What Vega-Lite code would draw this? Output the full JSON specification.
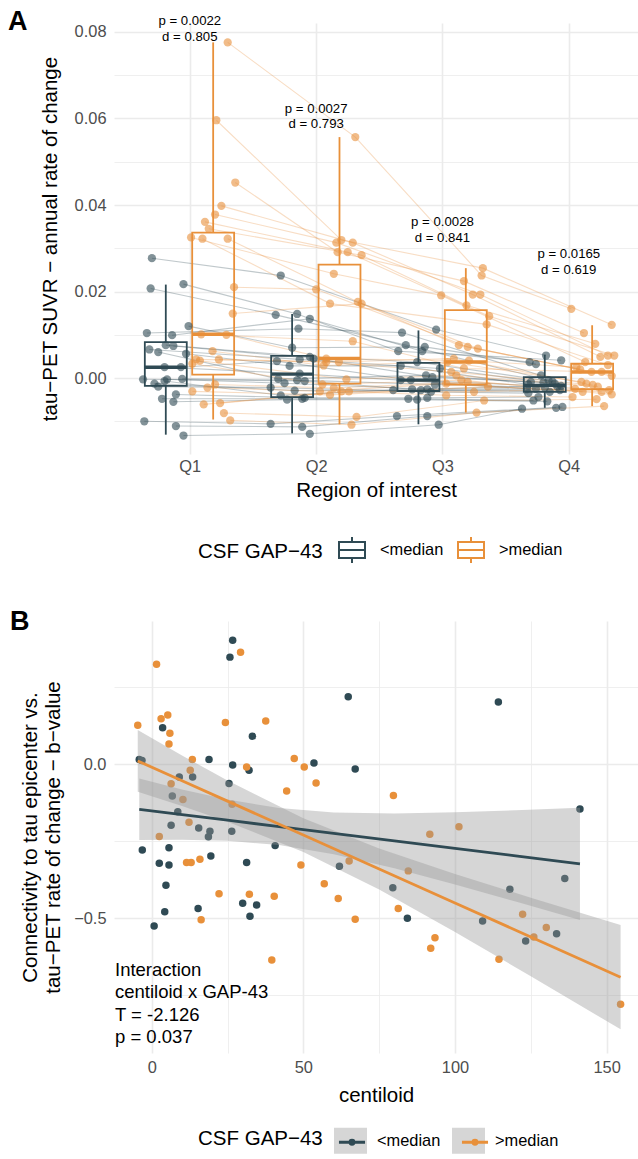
{
"$schema":"https://vega.github.io/schema/vega-lite/v6.json",
"padding":{"left":8,"top":8,"right":0,"bottom":0},
"spacing":41,
"config":{"font":"Liberation Sans","view":{"stroke":null},
"axis":{"domain":false,"ticks":false,"labelColor":"#4D4D4D","labelFontSize":16.4,"titleFontSize":20.5,"titleFontWeight":"normal","titleColor":"#000000","gridColor":"#EBEBEB","labelPadding":8,"labelOverlap":false,"labelFlush":false},
"legend":{"labelFontSize":16.4,"titleFontSize":20.5,"titleFontWeight":"normal","titleColor":"#000000","labelColor":"#000000"}},
"resolve":{"scale":{"color":"independent","stroke":"independent","fill":"independent"}},
"datasets":{
"ptsA":[
{"g":"<median","s":"l1","q":1,"jx":0.70,"v":0.0277},{"g":"<median","s":"l2","q":1,"jx":0.95,"v":0.0217},{"g":"<median","s":"l3","q":1,"jx":0.69,"v":0.0207},{"g":"<median","s":"l4","q":1,"jx":0.99,"v":0.0120},{"g":"<median","s":"l5","q":1,"jx":0.66,"v":0.0104},{"g":"<median","s":"l6","q":1,"jx":0.86,"v":0.0099},{"g":"<median","s":"l7","q":1,"jx":0.81,"v":0.0076},{"g":"<median","s":"l8","q":1,"jx":0.87,"v":0.0074},{"g":"<median","s":"l9","q":1,"jx":0.68,"v":0.0066},{"g":"<median","s":"l10","q":1,"jx":0.75,"v":0.0060},{"g":"<median","s":"l11","q":1,"jx":0.97,"v":0.0056},{"g":"<median","s":"l12","q":1,"jx":0.80,"v":0.0025},{"g":"<median","s":"l13","q":1,"jx":0.93,"v":0.0025},{"g":"<median","s":"l14","q":1,"jx":0.94,"v":-0.0002},{"g":"<median","s":"l15","q":1,"jx":0.63,"v":-0.0003},{"g":"<median","s":"l16","q":1,"jx":0.82,"v":-0.0003},{"g":"<median","s":"l17","q":1,"jx":0.80,"v":-0.0007},{"g":"<median","s":"l18","q":1,"jx":0.72,"v":-0.0013},{"g":"<median","s":"l19","q":1,"jx":0.75,"v":-0.0020},{"g":"<median","s":"l20","q":1,"jx":0.89,"v":-0.0038},{"g":"<median","s":"l21","q":1,"jx":0.78,"v":-0.0048},{"g":"<median","s":"l22","q":1,"jx":0.87,"v":-0.0055},{"g":"<median","s":"l23","q":1,"jx":0.64,"v":-0.0100},{"g":"<median","s":"l24","q":1,"jx":0.89,"v":-0.0111},{"g":"<median","s":"l25","q":1,"jx":0.95,"v":-0.0133},
{"g":"<median","s":"l1","q":2,"jx":1.72,"v":0.0237},{"g":"<median","s":"l2","q":2,"jx":1.85,"v":0.0148},{"g":"<median","s":"l3","q":2,"jx":1.68,"v":0.0146},{"g":"<median","s":"l4","q":2,"jx":1.81,"v":0.0070},{"g":"<median","s":"l5","q":2,"jx":1.86,"v":0.0114},{"g":"<median","s":"l6","q":2,"jx":1.95,"v":0.0137},{"g":"<median","s":"l7","q":2,"jx":1.95,"v":0.0049},{"g":"<median","s":"l8","q":2,"jx":1.98,"v":0.0045},{"g":"<median","s":"l9","q":2,"jx":1.87,"v":0.0043},{"g":"<median","s":"l10","q":2,"jx":1.70,"v":-0.0002},{"g":"<median","s":"l11","q":2,"jx":1.79,"v":0.0028},{"g":"<median","s":"l12","q":2,"jx":1.87,"v":0.0010},{"g":"<median","s":"l13","q":2,"jx":1.69,"v":0.0039},{"g":"<median","s":"l14","q":2,"jx":1.85,"v":-0.0005},{"g":"<median","s":"l15","q":2,"jx":1.91,"v":-0.0007},{"g":"<median","s":"l16","q":2,"jx":1.75,"v":-0.0012},{"g":"<median","s":"l17","q":2,"jx":1.72,"v":-0.0040},{"g":"<median","s":"l18","q":2,"jx":1.83,"v":-0.0029},{"g":"<median","s":"l19","q":2,"jx":1.64,"v":-0.0022},{"g":"<median","s":"l20","q":2,"jx":1.91,"v":-0.0046},{"g":"<median","s":"l21","q":2,"jx":1.89,"v":-0.0048},{"g":"<median","s":"l22","q":2,"jx":1.77,"v":-0.0050},{"g":"<median","s":"l23","q":2,"jx":1.64,"v":-0.0106},{"g":"<median","s":"l24","q":2,"jx":1.89,"v":-0.0113},{"g":"<median","s":"l25","q":2,"jx":1.95,"v":-0.0129},
{"g":"<median","s":"l1","q":3,"jx":2.95,"v":0.0112},{"g":"<median","s":"l2","q":3,"jx":2.65,"v":0.0062},{"g":"<median","s":"l3","q":3,"jx":2.71,"v":0.0076},{"g":"<median","s":"l4","q":3,"jx":2.86,"v":0.0072},{"g":"<median","s":"l5","q":3,"jx":2.68,"v":0.0105},{"g":"<median","s":"l6","q":3,"jx":2.84,"v":0.0062},{"g":"<median","s":"l7","q":3,"jx":2.80,"v":0.0037},{"g":"<median","s":"l8","q":3,"jx":2.92,"v":0.0002},{"g":"<median","s":"l9","q":3,"jx":2.98,"v":0.0022},{"g":"<median","s":"l10","q":3,"jx":2.87,"v":0.0006},{"g":"<median","s":"l11","q":3,"jx":2.67,"v":0.0028},{"g":"<median","s":"l12","q":3,"jx":2.67,"v":-0.0005},{"g":"<median","s":"l13","q":3,"jx":2.75,"v":-0.0005},{"g":"<median","s":"l14","q":3,"jx":2.94,"v":-0.0015},{"g":"<median","s":"l15","q":3,"jx":2.76,"v":-0.0026},{"g":"<median","s":"l16","q":3,"jx":2.88,"v":-0.0026},{"g":"<median","s":"l17","q":3,"jx":2.61,"v":-0.0028},{"g":"<median","s":"l18","q":3,"jx":2.83,"v":-0.0028},{"g":"<median","s":"l19","q":3,"jx":2.91,"v":-0.0032},{"g":"<median","s":"l20","q":3,"jx":2.88,"v":-0.0046},{"g":"<median","s":"l21","q":3,"jx":2.73,"v":-0.0048},{"g":"<median","s":"l22","q":3,"jx":2.80,"v":-0.0050},{"g":"<median","s":"l23","q":3,"jx":2.64,"v":-0.0088},{"g":"<median","s":"l24","q":3,"jx":2.88,"v":-0.0088},{"g":"<median","s":"l25","q":3,"jx":2.97,"v":-0.0108},
{"g":"<median","s":"l1","q":4,"jx":3.82,"v":0.0052},{"g":"<median","s":"l2","q":4,"jx":3.94,"v":0.0041},{"g":"<median","s":"l3","q":4,"jx":3.84,"v":-0.0005},{"g":"<median","s":"l4","q":4,"jx":3.74,"v":0.0032},{"g":"<median","s":"l5","q":4,"jx":3.78,"v":0.0006},{"g":"<median","s":"l6","q":4,"jx":3.69,"v":0.0037},{"g":"<median","s":"l7","q":4,"jx":3.87,"v":-0.0008},{"g":"<median","s":"l8","q":4,"jx":3.70,"v":-0.0009},{"g":"<median","s":"l9","q":4,"jx":3.80,"v":-0.0010},{"g":"<median","s":"l10","q":4,"jx":3.89,"v":-0.0013},{"g":"<median","s":"l11","q":4,"jx":3.68,"v":-0.0015},{"g":"<median","s":"l12","q":4,"jx":3.67,"v":-0.0025},{"g":"<median","s":"l13","q":4,"jx":3.91,"v":-0.0020},{"g":"<median","s":"l14","q":4,"jx":3.81,"v":-0.0022},{"g":"<median","s":"l15","q":4,"jx":3.94,"v":-0.0018},{"g":"<median","s":"l16","q":4,"jx":3.74,"v":-0.0025},{"g":"<median","s":"l17","q":4,"jx":3.93,"v":-0.0028},{"g":"<median","s":"l18","q":4,"jx":3.85,"v":-0.0032},{"g":"<median","s":"l19","q":4,"jx":3.68,"v":-0.0035},{"g":"<median","s":"l20","q":4,"jx":3.76,"v":-0.0044},{"g":"<median","s":"l21","q":4,"jx":3.72,"v":-0.0052},{"g":"<median","s":"l22","q":4,"jx":3.83,"v":-0.0054},{"g":"<median","s":"l23","q":4,"jx":3.95,"v":-0.0067},{"g":"<median","s":"l24","q":4,"jx":3.90,"v":-0.0069},{"g":"<median","s":"l25","q":4,"jx":3.63,"v":-0.0071},
{"g":">median","s":"h1","q":1,"jx":1.30,"v":0.0776},{"g":">median","s":"h2","q":1,"jx":1.21,"v":0.0596},{"g":">median","s":"h3","q":1,"jx":1.36,"v":0.0452},{"g":">median","s":"h4","q":1,"jx":1.25,"v":0.0398},{"g":">median","s":"h5","q":1,"jx":1.20,"v":0.0378},{"g":">median","s":"h6","q":1,"jx":1.12,"v":0.0361},{"g":">median","s":"h7","q":1,"jx":1.15,"v":0.0345},{"g":">median","s":"h8","q":1,"jx":1.01,"v":0.0325},{"g":">median","s":"h9","q":1,"jx":1.10,"v":0.0322},{"g":">median","s":"h10","q":1,"jx":1.30,"v":0.0322},{"g":">median","s":"h11","q":1,"jx":1.35,"v":0.0210},{"g":">median","s":"h12","q":1,"jx":1.34,"v":0.0149},{"g":">median","s":"h13","q":1,"jx":1.09,"v":0.0101},{"g":">median","s":"h14","q":1,"jx":1.29,"v":0.0100},{"g":">median","s":"h15","q":1,"jx":1.18,"v":0.0062},{"g":">median","s":"h16","q":1,"jx":1.23,"v":0.0043},{"g":">median","s":"h17","q":1,"jx":1.05,"v":0.0043},{"g":">median","s":"h18","q":1,"jx":1.08,"v":0.0040},{"g":">median","s":"h19","q":1,"jx":1.02,"v":0.0033},{"g":">median","s":"h20","q":1,"jx":1.20,"v":-0.0015},{"g":">median","s":"h21","q":1,"jx":1.14,"v":-0.0022},{"g":">median","s":"h22","q":1,"jx":1.02,"v":-0.0031},{"g":">median","s":"h23","q":1,"jx":1.24,"v":-0.0058},{"g":">median","s":"h24","q":1,"jx":1.11,"v":-0.0061},{"g":">median","s":"h25","q":1,"jx":1.27,"v":-0.0081},{"g":">median","s":"h26","q":1,"jx":1.32,"v":-0.0098},
{"g":">median","s":"h1","q":2,"jx":2.31,"v":0.0557},{"g":">median","s":"h2","q":2,"jx":2.20,"v":0.0319},{"g":">median","s":"h3","q":2,"jx":2.17,"v":0.0291},{"g":">median","s":"h4","q":2,"jx":2.29,"v":0.0313},{"g":">median","s":"h5","q":2,"jx":2.16,"v":0.0313},{"g":">median","s":"h6","q":2,"jx":2.25,"v":0.0291},{"g":">median","s":"h7","q":2,"jx":2.36,"v":0.0284},{"g":">median","s":"h8","q":2,"jx":2.14,"v":0.0241},{"g":">median","s":"h9","q":2,"jx":2.11,"v":0.0172},{"g":">median","s":"h10","q":2,"jx":2.33,"v":0.0176},{"g":">median","s":"h11","q":2,"jx":2.00,"v":0.0205},{"g":">median","s":"h12","q":2,"jx":2.36,"v":0.0172},{"g":">median","s":"h13","q":2,"jx":2.29,"v":0.0085},{"g":">median","s":"h14","q":2,"jx":2.08,"v":0.0045},{"g":">median","s":"h15","q":2,"jx":2.06,"v":0.0029},{"g":">median","s":"h16","q":2,"jx":2.18,"v":0.0037},{"g":">median","s":"h17","q":2,"jx":2.08,"v":0.0037},{"g":">median","s":"h18","q":2,"jx":2.24,"v":-0.0003},{"g":">median","s":"h19","q":2,"jx":2.05,"v":-0.0015},{"g":">median","s":"h20","q":2,"jx":2.14,"v":-0.0023},{"g":">median","s":"h21","q":2,"jx":2.03,"v":-0.0031},{"g":">median","s":"h22","q":2,"jx":2.11,"v":-0.0039},{"g":">median","s":"h23","q":2,"jx":2.26,"v":-0.0031},{"g":">median","s":"h24","q":2,"jx":2.20,"v":-0.0031},{"g":">median","s":"h25","q":2,"jx":2.32,"v":-0.0090},{"g":">median","s":"h26","q":2,"jx":2.28,"v":-0.0108},
{"g":">median","s":"h1","q":3,"jx":3.31,"v":0.0237},{"g":">median","s":"h2","q":3,"jx":3.32,"v":0.0254},{"g":">median","s":"h3","q":3,"jx":3.17,"v":0.0224},{"g":">median","s":"h4","q":3,"jx":3.24,"v":0.0193},{"g":">median","s":"h5","q":3,"jx":3.30,"v":0.0193},{"g":">median","s":"h6","q":3,"jx":3.37,"v":0.0143},{"g":">median","s":"h7","q":3,"jx":3.19,"v":0.0168},{"g":">median","s":"h8","q":3,"jx":2.99,"v":0.0191},{"g":">median","s":"h9","q":3,"jx":3.35,"v":0.0124},{"g":">median","s":"h10","q":3,"jx":3.13,"v":0.0076},{"g":">median","s":"h11","q":3,"jx":3.20,"v":0.0072},{"g":">median","s":"h12","q":3,"jx":3.28,"v":0.0068},{"g":">median","s":"h13","q":3,"jx":3.17,"v":0.0022},{"g":">median","s":"h14","q":3,"jx":3.21,"v":0.0040},{"g":">median","s":"h15","q":3,"jx":3.04,"v":0.0037},{"g":">median","s":"h16","q":3,"jx":3.09,"v":0.0045},{"g":">median","s":"h17","q":3,"jx":3.07,"v":0.0014},{"g":">median","s":"h18","q":3,"jx":3.11,"v":0.0006},{"g":">median","s":"h19","q":3,"jx":3.15,"v":-0.0005},{"g":">median","s":"h20","q":3,"jx":3.20,"v":-0.0009},{"g":">median","s":"h21","q":3,"jx":3.03,"v":-0.0013},{"g":">median","s":"h22","q":3,"jx":3.36,"v":-0.0020},{"g":">median","s":"h23","q":3,"jx":3.25,"v":-0.0032},{"g":">median","s":"h24","q":3,"jx":3.03,"v":-0.0040},{"g":">median","s":"h25","q":3,"jx":3.33,"v":-0.0052},{"g":">median","s":"h26","q":3,"jx":3.27,"v":-0.0080},
{"g":">median","s":"h1","q":4,"jx":4.02,"v":0.0160},{"g":">median","s":"h2","q":4,"jx":4.34,"v":0.0123},{"g":">median","s":"h3","q":4,"jx":4.12,"v":0.0104},{"g":">median","s":"h4","q":4,"jx":4.25,"v":0.0049},{"g":">median","s":"h5","q":4,"jx":4.31,"v":0.0052},{"g":">median","s":"h6","q":4,"jx":4.36,"v":0.0052},{"g":">median","s":"h7","q":4,"jx":4.21,"v":0.0079},{"g":">median","s":"h8","q":4,"jx":4.13,"v":0.0037},{"g":">median","s":"h9","q":4,"jx":4.31,"v":0.0030},{"g":">median","s":"h10","q":4,"jx":4.34,"v":0.0005},{"g":">median","s":"h11","q":4,"jx":4.09,"v":0.0020},{"g":">median","s":"h12","q":4,"jx":4.18,"v":0.0014},{"g":">median","s":"h13","q":4,"jx":4.26,"v":0.0014},{"g":">median","s":"h14","q":4,"jx":4.06,"v":0.0025},{"g":">median","s":"h15","q":4,"jx":4.10,"v":-0.0009},{"g":">median","s":"h16","q":4,"jx":4.14,"v":-0.0013},{"g":">median","s":"h17","q":4,"jx":4.19,"v":-0.0016},{"g":">median","s":"h18","q":4,"jx":4.23,"v":-0.0020},{"g":">median","s":"h19","q":4,"jx":4.34,"v":-0.0038},{"g":">median","s":"h20","q":4,"jx":4.32,"v":-0.0028},{"g":">median","s":"h21","q":4,"jx":4.11,"v":-0.0032},{"g":">median","s":"h22","q":4,"jx":4.26,"v":-0.0032},{"g":">median","s":"h23","q":4,"jx":4.05,"v":-0.0025},{"g":">median","s":"h24","q":4,"jx":4.03,"v":-0.0044},{"g":">median","s":"h25","q":4,"jx":4.22,"v":-0.0049},{"g":">median","s":"h26","q":4,"jx":4.28,"v":-0.0065}
],
"boxA":[
{"g":"<median","q":1,"lo":-0.0131,"lq":-0.0018,"md":0.0025,"uq":0.0083,"hi":0.0216},
{"g":"<median","q":2,"lo":-0.0128,"lq":-0.0044,"md":0.0009,"uq":0.0051,"hi":0.0148},
{"g":"<median","q":3,"lo":-0.0107,"lq":-0.0030,"md":-0.0005,"uq":0.0035,"hi":0.0110},
{"g":"<median","q":4,"lo":-0.0069,"lq":-0.0032,"md":-0.0017,"uq":0.0002,"hi":0.0054},
{"g":">median","q":1,"lo":-0.0096,"lq":0.0008,"md":0.0101,"uq":0.0336,"hi":0.0776},
{"g":">median","q":2,"lo":-0.0107,"lq":-0.0013,"md":0.0045,"uq":0.0262,"hi":0.0557},
{"g":">median","q":3,"lo":-0.0080,"lq":-0.0015,"md":0.0037,"uq":0.0157,"hi":0.0254},
{"g":">median","q":4,"lo":-0.0065,"lq":-0.0026,"md":0.0014,"uq":0.0033,"hi":0.0122}
],
"annA":[
{"q":1,"ty":0.0825,"t":["p = 0.0022","d = 0.805"]},
{"q":2,"ty":0.0623,"t":["p = 0.0027","d = 0.793"]},
{"q":3,"ty":0.0361,"t":["p = 0.0028","d = 0.841"]},
{"q":4,"ty":0.0286,"t":["p = 0.0165","d = 0.619"]}
],
"ptsB":[
{"g":"<median","cl":26.7,"b":0.403},{"g":"<median","cl":25.8,"b":0.348},{"g":"<median","cl":3.6,"b":0.119},{"g":"<median","cl":33.2,"b":0.091},{"g":"<median","cl":-4.1,"b":0.016},{"g":"<median","cl":-3.2,"b":0.012},{"g":"<median","cl":18.9,"b":0.016},{"g":"<median","cl":26.7,"b":-0.002},{"g":"<median","cl":32.1,"b":-0.019},{"g":"<median","cl":53.5,"b":0.004},{"g":"<median","cl":9.1,"b":-0.041},{"g":"<median","cl":13.5,"b":-0.041},{"g":"<median","cl":6.8,"b":-0.103},{"g":"<median","cl":25.5,"b":-0.062},{"g":"<median","cl":8.6,"b":-0.154},{"g":"<median","cl":6.4,"b":-0.198},{"g":"<median","cl":15.5,"b":-0.207},{"g":"<median","cl":19.2,"b":-0.217},{"g":"<median","cl":26.4,"b":-0.217},{"g":"<median","cl":64.8,"b":0.219},{"g":"<median","cl":114.3,"b":0.202},{"g":"<median","cl":67.1,"b":-0.015},{"g":"<median","cl":141.2,"b":-0.145},{"g":"<median","cl":18.7,"b":-0.235},{"g":"<median","cl":-3.1,"b":-0.278},{"g":"<median","cl":5.7,"b":-0.271},{"g":"<median","cl":2.5,"b":-0.321},{"g":"<median","cl":5.7,"b":-0.327},{"g":"<median","cl":19.5,"b":-0.298},{"g":"<median","cl":31.3,"b":-0.319},{"g":"<median","cl":40.7,"b":-0.264},{"g":"<median","cl":4.7,"b":-0.393},{"g":"<median","cl":30.0,"b":-0.451},{"g":"<median","cl":34.6,"b":-0.457},{"g":"<median","cl":32.4,"b":-0.493},{"g":"<median","cl":4.3,"b":-0.479},{"g":"<median","cl":15.3,"b":-0.468},{"g":"<median","cl":0.8,"b":-0.525},{"g":"<median","cl":61.9,"b":-0.331},{"g":"<median","cl":79.5,"b":-0.401},{"g":"<median","cl":84.3,"b":-0.500},{"g":"<median","cl":109.1,"b":-0.509},{"g":"<median","cl":118.1,"b":-0.406},{"g":"<median","cl":123.3,"b":-0.574},{"g":"<median","cl":133.5,"b":-0.550},{"g":"<median","cl":136.2,"b":-0.371},
{"g":">median","cl":29.3,"b":0.364},{"g":">median","cl":1.6,"b":0.325},{"g":">median","cl":-4.6,"b":0.127},{"g":">median","cl":3.1,"b":0.148},{"g":">median","cl":5.3,"b":0.160},{"g":">median","cl":6.0,"b":0.101},{"g":">median","cl":5.7,"b":0.066},{"g":">median","cl":24.3,"b":0.136},{"g":">median","cl":37.6,"b":0.141},{"g":">median","cl":13.4,"b":0.016},{"g":">median","cl":31.3,"b":-0.009},{"g":">median","cl":47.0,"b":0.019},{"g":">median","cl":50.3,"b":-0.009},{"g":">median","cl":54.2,"b":-0.061},{"g":">median","cl":44.5,"b":-0.087},{"g":">median","cl":12.7,"b":-0.019},{"g":">median","cl":6.4,"b":-0.063},{"g":">median","cl":10.3,"b":-0.114},{"g":">median","cl":26.5,"b":-0.130},{"g":">median","cl":12.3,"b":-0.188},{"g":">median","cl":2.5,"b":-0.234},{"g":">median","cl":79.7,"b":-0.101},{"g":">median","cl":101.3,"b":-0.203},{"g":">median","cl":91.7,"b":-0.227},{"g":">median","cl":11.5,"b":-0.319},{"g":">median","cl":13.0,"b":-0.319},{"g":">median","cl":15.9,"b":-0.308},{"g":">median","cl":49.2,"b":-0.327},{"g":">median","cl":22.2,"b":-0.420},{"g":">median","cl":32.2,"b":-0.422},{"g":">median","cl":40.4,"b":-0.428},{"g":">median","cl":16.3,"b":-0.505},{"g":">median","cl":39.6,"b":-0.635},{"g":">median","cl":56.9,"b":-0.388},{"g":">median","cl":61.5,"b":-0.436},{"g":">median","cl":67.1,"b":-0.503},{"g":">median","cl":65.1,"b":-0.314},{"g":">median","cl":84.6,"b":-0.346},{"g":">median","cl":81.3,"b":-0.468},{"g":">median","cl":93.4,"b":-0.563},{"g":">median","cl":92.0,"b":-0.597},{"g":">median","cl":122.3,"b":-0.487},{"g":">median","cl":126.0,"b":-0.561},{"g":">median","cl":130.1,"b":-0.530},{"g":">median","cl":114.5,"b":-0.633},{"g":">median","cl":154.6,"b":-0.779}
],
"bandB":[
{"g":"<median","x":-4.1,"fit":-0.146,"lo":-0.246,"hi":-0.046},{"g":"<median","x":10,"fit":-0.1632,"lo":-0.245,"hi":-0.0814},{"g":"<median","x":25,"fit":-0.1815,"lo":-0.2484,"hi":-0.1146},{"g":"<median","x":42,"fit":-0.2022,"lo":-0.2622,"hi":-0.1422},{"g":"<median","x":60,"fit":-0.2242,"lo":-0.2919,"hi":-0.1565},{"g":"<median","x":80,"fit":-0.2486,"lo":-0.3378,"hi":-0.1594},{"g":"<median","x":100,"fit":-0.273,"lo":-0.3903,"hi":-0.1557},{"g":"<median","x":120,"fit":-0.2974,"lo":-0.4456,"hi":-0.1492},{"g":"<median","x":141.2,"fit":-0.3233,"lo":-0.5058,"hi":-0.1408},
{"g":">median","x":-4.6,"fit":0.011,"lo":-0.089,"hi":0.111},{"g":">median","x":10,"fit":-0.0534,"lo":-0.1356,"hi":0.0288},{"g":">median","x":25,"fit":-0.1195,"lo":-0.1863,"hi":-0.0527},{"g":">median","x":50,"fit":-0.2298,"lo":-0.2846,"hi":-0.175},{"g":">median","x":75,"fit":-0.34,"lo":-0.4068,"hi":-0.2732},{"g":">median","x":100,"fit":-0.4503,"lo":-0.5445,"hi":-0.3561},{"g":">median","x":125,"fit":-0.5605,"lo":-0.6879,"hi":-0.4331},{"g":">median","x":154.6,"fit":-0.6911,"lo":-0.8605,"hi":-0.5217}
],
"annB":[{"x":-12.1,"y":-0.668,"t":["Interaction","centiloid x GAP-43","T = -2.126","p = 0.037"]}]
},
"vconcat":[
{"width":524,"height":431,
"title":{"text":"A","anchor":"start","frame":"group","fontSize":27,"fontWeight":"bold","color":"#000000","dx":-106,"dy":22,"offset":0},
"layer":[
{"data":{"name":"ptsA"},"mark":{"type":"line","strokeWidth":1.1,"opacity":0.3},
"encoding":{"x":{"field":"jx","type":"quantitative","scale":{"domain":[0.4,4.548],"nice":false,"zero":false},"axis":{"title":"Region of interest","values":[1,2,3,4],"labelExpr":"'Q' + datum.value","gridWidth":1.6,"labelPadding":4,"titlePadding":6}},
"y":{"field":"v","type":"quantitative","scale":{"domain":[-0.01757,0.08208],"nice":false,"zero":false},"axis":{"title":"tau−PET SUVR − annual rate of change","values":[-0.01,0,0.01,0.02,0.03,0.04,0.05,0.06,0.07,0.08],"labelExpr":"abs(datum.value*100 - round(datum.value*50)*2) < 0.01 ? format(datum.value, '.2f') : ''","gridWidth":{"condition":{"test":"abs(datum.value*100 - round(datum.value*50)*2) < 0.01","value":1.6},"value":0.8},"titlePadding":14}},
"color":{"field":"g","type":"nominal","scale":{"range":["#2F4A54","#E8903A"]},"legend":null},
"detail":{"field":"s"},"order":{"field":"q"}}},
{"data":{"name":"boxA"},"transform":[{"calculate":"datum.q + (datum.g == '<median' ? -0.19 : 0.185)","as":"pos"},{"calculate":"datum.pos - 0.166","as":"x0"},{"calculate":"datum.pos + 0.166","as":"x1"}],
"layer":[
{"mark":{"type":"rect","filled":false,"strokeWidth":1.8},
"encoding":{"x":{"field":"x0","type":"quantitative","scale":{"domain":[0.4,4.548],"nice":false,"zero":false}},"x2":{"field":"x1"},
"y":{"field":"lq","type":"quantitative","scale":{"domain":[-0.01757,0.08208],"nice":false,"zero":false}},"y2":{"field":"uq"},
"stroke":{"field":"g","type":"nominal","scale":{"domain":["<median",">median"],"range":["#2F4A54","#E8903A"]},
"legend":{"title":"CSF GAP−43","orient":"none","legendX":84,"legendY":513,"direction":"horizontal","titleOrient":"left","titleBaseline":"middle","symbolType":"M-1,-0.62H1V0.62H-1Z M-1,0H1 M0,-0.62V-1 M0,0.62V1","symbolSize":676,"symbolStrokeWidth":2,"symbolFillColor":"transparent","symbolOpacity":1,"labelOffset":14,"columnPadding":10,"titlePadding":15}}}},
{"mark":{"type":"rule","strokeWidth":1.8},
"encoding":{"x":{"field":"pos","type":"quantitative","scale":{"domain":[0.4,4.548],"nice":false,"zero":false}},
"y":{"field":"lo","type":"quantitative","scale":{"domain":[-0.01757,0.08208],"nice":false,"zero":false}},"y2":{"field":"lq"},
"color":{"field":"g","type":"nominal","scale":{"range":["#2F4A54","#E8903A"]},"legend":null}}},
{"mark":{"type":"rule","strokeWidth":1.8},
"encoding":{"x":{"field":"pos","type":"quantitative","scale":{"domain":[0.4,4.548],"nice":false,"zero":false}},
"y":{"field":"uq","type":"quantitative","scale":{"domain":[-0.01757,0.08208],"nice":false,"zero":false}},"y2":{"field":"hi"},
"color":{"field":"g","type":"nominal","scale":{"range":["#2F4A54","#E8903A"]},"legend":null}}},
{"mark":{"type":"rule","strokeWidth":3.4},
"encoding":{"x":{"field":"x0","type":"quantitative","scale":{"domain":[0.4,4.548],"nice":false,"zero":false}},"x2":{"field":"x1"},
"y":{"field":"md","type":"quantitative","scale":{"domain":[-0.01757,0.08208],"nice":false,"zero":false}},
"color":{"field":"g","type":"nominal","scale":{"range":["#2F4A54","#E8903A"]},"legend":null}}}
]},
{"data":{"name":"ptsA"},"mark":{"type":"circle","size":68,"opacity":0.6},
"encoding":{"x":{"field":"jx","type":"quantitative","scale":{"domain":[0.4,4.548],"nice":false,"zero":false}},
"y":{"field":"v","type":"quantitative","scale":{"domain":[-0.01757,0.08208],"nice":false,"zero":false}},
"color":{"field":"g","type":"nominal","scale":{"range":["#2F4A54","#E8903A"]},"legend":null}}},
{"data":{"name":"annA"},"mark":{"type":"text","fontSize":13.2,"lineHeight":15.7,"baseline":"middle","align":"center","color":"#000000"},
"encoding":{"x":{"field":"q","type":"quantitative","scale":{"domain":[0.4,4.548],"nice":false,"zero":false}},
"y":{"field":"ty","type":"quantitative","scale":{"domain":[-0.01757,0.08208],"nice":false,"zero":false}},
"text":{"field":"t"}}}
]},
{"width":524,"height":432,
"title":{"text":"B","anchor":"start","frame":"group","fontSize":27,"fontWeight":"bold","color":"#000000","dx":-104,"dy":15,"offset":0},
"layer":[
{"data":{"name":"ptsB"},"mark":{"type":"circle","size":56,"opacity":1},
"encoding":{"x":{"field":"cl","type":"quantitative","scale":{"domain":[-12.43,160.34],"nice":false,"zero":false},"axis":{"title":"centiloid","values":[0,25,50,75,100,125,150],"labelExpr":"datum.value % 50 === 0 ? format(datum.value, 'd') : ''","gridWidth":{"condition":{"test":"datum.value % 50 === 0","value":1.6},"value":0.8},"labelPadding":6,"titlePadding":10}},
"y":{"field":"b","type":"quantitative","scale":{"domain":[-0.9373,0.4653],"nice":false,"zero":false},"axis":{"title":["Connectivity to tau epicenter vs.","tau−PET rate of change − b−value"],"titleLineHeight":23,"values":[-0.75,-0.5,-0.25,0,0.25],"labelExpr":"abs(datum.value*2 - round(datum.value*2)) < 0.01 ? format(datum.value, '.1f') : ''","gridWidth":{"condition":{"test":"abs(datum.value*2 - round(datum.value*2)) < 0.01","value":1.6},"value":0.8},"titlePadding":10}},
"color":{"field":"g","type":"nominal","scale":{"range":["#2F4A54","#E8903A"]},"legend":null}}},
{"data":{"name":"bandB"},"mark":{"type":"area","opacity":0.4},
"encoding":{"x":{"field":"x","type":"quantitative","scale":{"domain":[-12.43,160.34],"nice":false,"zero":false}},
"y":{"field":"lo","type":"quantitative","scale":{"domain":[-0.9373,0.4653],"nice":false,"zero":false}},"y2":{"field":"hi"},
"fill":{"field":"g","type":"nominal","scale":{"domain":["<median",">median"],"range":["#999999","#999999"]},
"legend":{"title":"CSF GAP−43","orient":"none","legendX":84,"legendY":503,"direction":"horizontal","titleOrient":"left","titleBaseline":"middle","symbolType":"M-1,-0.79H1V0.79H-1Z","symbolSize":1089,"symbolStrokeWidth":0,"symbolOpacity":0.4,"labelOffset":10,"columnPadding":11,"titlePadding":11}}}},
{"data":{"name":"bandB"},"transform":[{"calculate":"datum.g","as":"gl"}],"mark":{"type":"line","strokeWidth":2.8},
"encoding":{"x":{"field":"x","type":"quantitative","scale":{"domain":[-12.43,160.34],"nice":false,"zero":false}},
"y":{"field":"fit","type":"quantitative","scale":{"domain":[-0.9373,0.4653],"nice":false,"zero":false}},
"stroke":{"field":"gl","type":"nominal","scale":{"range":["#2F4A54","#E8903A"]},
"legend":{"title":"CSF GAP−43","orient":"none","legendX":84,"legendY":503,"direction":"horizontal","titleOrient":"left","titleBaseline":"middle","titleColor":"transparent","labelColor":"transparent","symbolType":"M-0.79,0H0.79M-0.12,0A0.12,0.12,0,1,0,0.12,0A0.12,0.12,0,1,0,-0.12,0","symbolSize":1089,"symbolStrokeWidth":3,"symbolOpacity":1,"symbolFillColor":"transparent","labelOffset":10,"columnPadding":11,"titlePadding":11}}}},
{"data":{"name":"annB"},"mark":{"type":"text","fontSize":18.5,"lineHeight":22.3,"baseline":"middle","align":"left","color":"#000000"},
"encoding":{"x":{"field":"x","type":"quantitative","scale":{"domain":[-12.43,160.34],"nice":false,"zero":false}},
"y":{"field":"y","type":"quantitative","scale":{"domain":[-0.9373,0.4653],"nice":false,"zero":false}},
"text":{"field":"t"}}}
]}
]
}
